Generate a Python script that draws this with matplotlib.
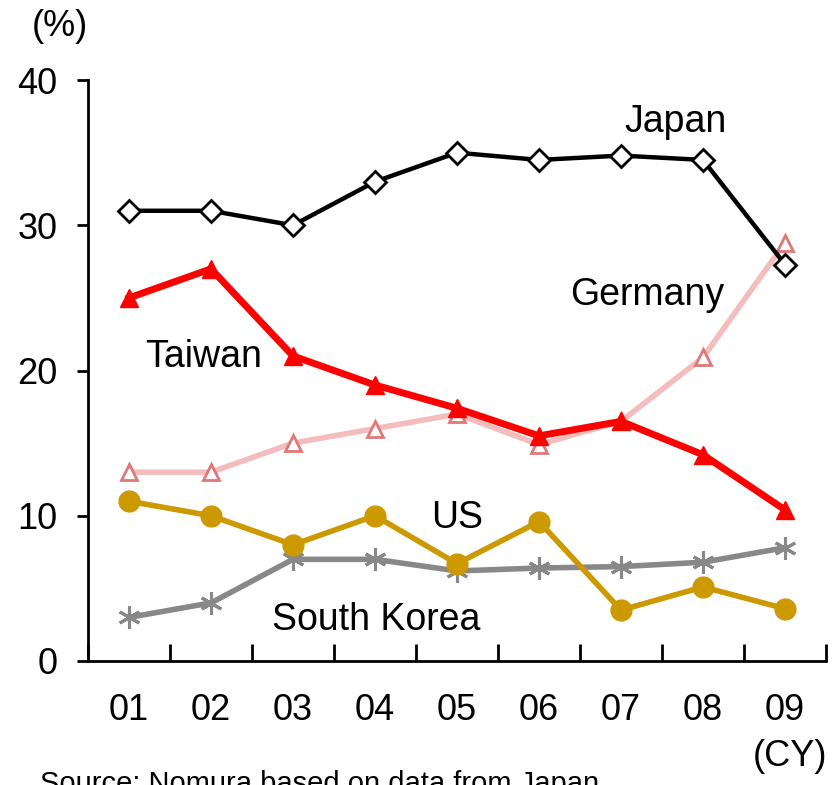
import matplotlib
matplotlib.use("Agg")
import matplotlib.pyplot as plt

plt.rcParams['font.family'] = ['Liberation Sans', 'DejaVu Sans']

years = ["01", "02", "03", "04", "05", "06", "07", "08", "09"]
japan = [31.0, 31.0, 30.0, 33.0, 35.0, 34.5, 34.8, 34.5, 27.3]
taiwan = [25.0, 27.0, 21.0, 19.0, 17.4, 15.5, 16.5, 14.2, 10.4]
germany = [13.0, 13.0, 15.0, 16.0, 17.0, 14.9, 16.5, 20.9, 28.8]
us = [11.0, 10.0, 8.0, 10.0, 6.7, 9.6, 3.5, 5.1, 3.6]
south_korea = [3.0, 4.0, 7.0, 7.0, 6.2, 6.4, 6.5, 6.8, 7.8]

fig = plt.figure(figsize=(8.37, 7.85), dpi=100)
ax = fig.add_axes([0.1051, 0.158, 0.8818, 0.740])

x = list(range(len(years)))

ax.plot(x, germany, color='#F4BCBC', lw=4, marker='^', ms=11,
        mfc='white', mec='#E07878', mew=2, zorder=2)
ax.plot(x, south_korea, color='#888888', lw=4, marker=(6, 2, 0), ms=16,
        mec='#888888', mew=2.2, zorder=3)
ax.plot(x, us, color='#CC9900', lw=4, marker='o', ms=15,
        mfc='#CC9900', mec='#CC9900', zorder=4)
ax.plot(x, taiwan, color='#FF0000', lw=5, marker='^', ms=13,
        mfc='#FF0000', mec='#FF0000', zorder=5)
ax.plot(x, japan, color='black', lw=3.2, marker='D', ms=11,
        mfc='white', mec='black', mew=2, zorder=6)

ax.set_xlim(-0.5, len(years) - 0.5)
ax.set_ylim(0, 40)
ax.set_yticks([0, 10, 20, 30, 40])
ax.set_xticks(x)
ax.set_xticklabels(years)
ax.set_xticks([i + 0.5 for i in range(-1, len(years))], minor=True)

for s in ['top', 'right']:
    ax.spines[s].set_visible(False)
for s in ['left', 'bottom']:
    ax.spines[s].set_linewidth(2)

ax.tick_params(axis='y', direction='out', length=8, width=2, labelsize=26, pad=14)
ax.tick_params(axis='x', which='major', length=0, labelsize=26, pad=23)
ax.tick_params(axis='x', which='minor', direction='in', length=12, width=2)

lab = dict(fontsize=27, ha='center', va='baseline')
ax.text(6.67, 36.42, "Japan", **lab)
ax.text(6.32, 24.51, "Germany", **lab)
ax.text(0.915, 20.24, "Taiwan", **lab)
ax.text(4.0, 9.16, "US", **lab)
ax.text(3.01, 2.13, "South Korea", **lab)

fig.text(60/837, 1 - 27/785, "(%)", fontsize=26, ha='center', va='center')
fig.text(790/837, 1 - 756/785, "(CY)", fontsize=26, ha='center', va='center')
fig.text(40/837, 1 - 792/785, "Source: Nomura based on data from Japan",
         fontsize=21, ha='left', va='baseline')

fig.savefig("out.png", dpi=100)
